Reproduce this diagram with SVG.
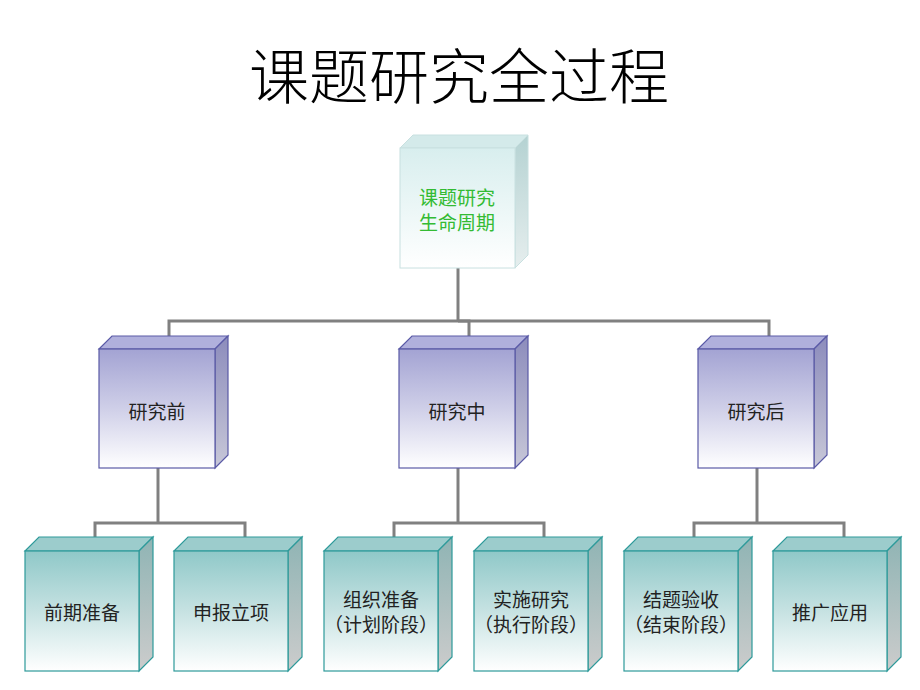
<svg xmlns="http://www.w3.org/2000/svg" width="920" height="690" viewBox="0 0 920 690">
<defs>
<linearGradient id="gTop" x1="0" y1="0" x2="0" y2="1"><stop offset="0" stop-color="#d8eeee"/><stop offset="1" stop-color="#ffffff"/></linearGradient>
<linearGradient id="gTopSide" x1="0" y1="0" x2="0" y2="1"><stop offset="0" stop-color="#b4d2d2"/><stop offset="1" stop-color="#e6eeee"/></linearGradient>
<linearGradient id="gMid" x1="0" y1="0" x2="0" y2="1"><stop offset="0" stop-color="#a3a3d3"/><stop offset="0.5" stop-color="#cfcfe8"/><stop offset="1" stop-color="#ffffff"/></linearGradient>
<linearGradient id="gMidSide" x1="0" y1="0" x2="0" y2="1"><stop offset="0" stop-color="#8c8cbc"/><stop offset="1" stop-color="#c8c8d8"/></linearGradient>
<linearGradient id="gBot" x1="0" y1="0" x2="0" y2="1"><stop offset="0" stop-color="#8fc8c8"/><stop offset="0.5" stop-color="#c6e2e2"/><stop offset="1" stop-color="#ffffff"/></linearGradient>
<linearGradient id="gBotSide" x1="0" y1="0" x2="0" y2="1"><stop offset="0" stop-color="#8fb4b4"/><stop offset="1" stop-color="#cccccc"/></linearGradient>
</defs>
<style>
.title{font-family:"Noto Sans CJK SC","Liberation Serif",serif;font-size:60px;font-weight:300;fill:#000;text-anchor:middle}
.lbl{font-family:"Noto Sans CJK SC","Liberation Sans",sans-serif;font-size:19px;fill:#222;text-anchor:middle}
.glbl{font-family:"Noto Sans CJK SC","Liberation Sans",sans-serif;font-size:19px;fill:#33bb33;text-anchor:middle}
.conn{stroke:#808080;stroke-width:3;fill:none}
.tf{fill:url(#gTop);stroke:#c8e0e0;stroke-width:1}
.tt{fill:#d4eaea;stroke:#c8e0e0;stroke-width:1}
.ts{fill:url(#gTopSide);stroke:#c8e0e0;stroke-width:1}
.mf{fill:url(#gMid);stroke:#5a5aa6;stroke-width:1.2}
.mt{fill:#b0b0dc;stroke:#5a5aa6;stroke-width:1.2}
.ms{fill:url(#gMidSide);stroke:#5a5aa6;stroke-width:1.2}
.bf{fill:url(#gBot);stroke:#2e9a9a;stroke-width:1.2}
.bt{fill:#9ccccc;stroke:#2e9a9a;stroke-width:1.2}
.bs{fill:url(#gBotSide);stroke:#2e9a9a;stroke-width:1.2}
</style>
<text class="title" x="459" y="99">课题研究全过程</text>
<g id="connectors">
<polyline class="conn" points="458,268 458,321"/>
<polyline class="conn" points="169,343 169,321 769,321 769,343"/>
<polyline class="conn" points="458,321 469,321 469,343"/>
<polyline class="conn" points="158,468 158,523"/>
<polyline class="conn" points="95,540 95,523 245,523 245,540"/>
<polyline class="conn" points="458,468 458,523"/>
<polyline class="conn" points="394,540 394,523 544,523 544,540"/>
<polyline class="conn" points="757,468 757,523"/>
<polyline class="conn" points="694,540 694,523 844,523 844,540"/>
</g>
<g id="root">
<polygon class="tt" points="400,148 413,135 528,135 515,148"/>
<polygon class="ts" points="515,148 528,135 528,255 515,268"/>
<rect class="tf" x="400" y="148" width="115" height="120"/>
<text class="glbl" x="457" y="205">课题研究</text>
<text class="glbl" x="457" y="230">生命周期</text>
</g>
<g id="before">
<polygon class="mt" points="99,349 112,336 228,336 215,349"/>
<polygon class="ms" points="215,349 228,336 228,455 215,468"/>
<rect class="mf" x="99" y="349" width="116" height="119"/>
<text class="lbl" x="157" y="419">研究前</text>
</g>
<g id="during">
<polygon class="mt" points="399,349 412,336 528,336 515,349"/>
<polygon class="ms" points="515,349 528,336 528,455 515,468"/>
<rect class="mf" x="399" y="349" width="116" height="119"/>
<text class="lbl" x="457" y="419">研究中</text>
</g>
<g id="after">
<polygon class="mt" points="698,349 711,336 827,336 814,349"/>
<polygon class="ms" points="814,349 827,336 827,455 814,468"/>
<rect class="mf" x="698" y="349" width="116" height="119"/>
<text class="lbl" x="756" y="419">研究后</text>
</g>
<g id="prep">
<polygon class="bt" points="25,551 39,537 153,537 139,551"/>
<polygon class="bs" points="139,551 153,537 153,657 139,671"/>
<rect class="bf" x="25" y="551" width="114" height="120"/>
<text class="lbl" x="82" y="620">前期准备</text>
</g>
<g id="apply">
<polygon class="bt" points="174,551 188,537 302,537 288,551"/>
<polygon class="bs" points="288,551 302,537 302,657 288,671"/>
<rect class="bf" x="174" y="551" width="114" height="120"/>
<text class="lbl" x="231" y="620">申报立项</text>
</g>
<g id="organize">
<polygon class="bt" points="324,551 338,537 452,537 438,551"/>
<polygon class="bs" points="438,551 452,537 452,657 438,671"/>
<rect class="bf" x="324" y="551" width="114" height="120"/>
<text class="lbl" x="381" y="607">组织准备</text>
<text class="lbl" x="381" y="632">（计划阶段）</text>
</g>
<g id="implement">
<polygon class="bt" points="474,551 488,537 602,537 588,551"/>
<polygon class="bs" points="588,551 602,537 602,657 588,671"/>
<rect class="bf" x="474" y="551" width="114" height="120"/>
<text class="lbl" x="531" y="607">实施研究</text>
<text class="lbl" x="531" y="632">（执行阶段）</text>
</g>
<g id="conclude">
<polygon class="bt" points="624,551 638,537 752,537 738,551"/>
<polygon class="bs" points="738,551 752,537 752,657 738,671"/>
<rect class="bf" x="624" y="551" width="114" height="120"/>
<text class="lbl" x="681" y="607">结题验收</text>
<text class="lbl" x="681" y="632">（结束阶段）</text>
</g>
<g id="promote">
<polygon class="bt" points="773,551 787,537 901,537 887,551"/>
<polygon class="bs" points="887,551 901,537 901,657 887,671"/>
<rect class="bf" x="773" y="551" width="114" height="120"/>
<text class="lbl" x="830" y="620">推广应用</text>
</g>
</svg>
